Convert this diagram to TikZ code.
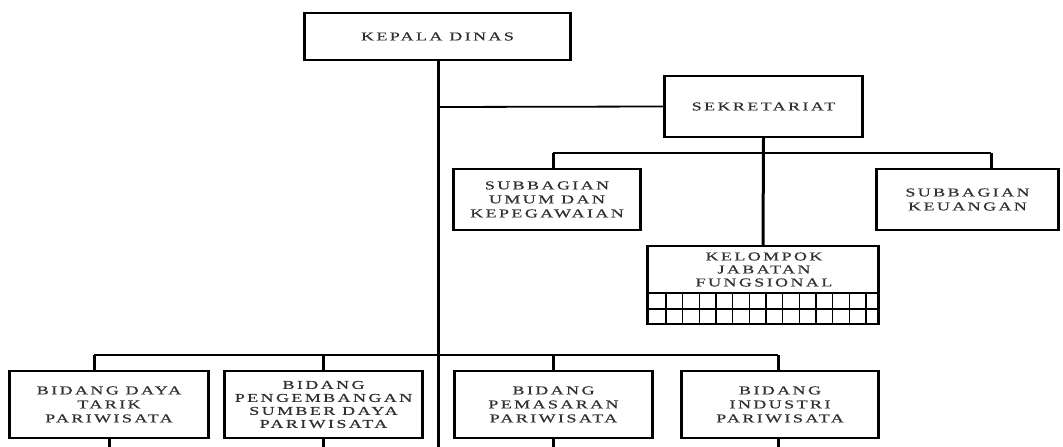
\documentclass[tikz,border=0pt]{standalone}
\usepackage{fontspec}
\newfontfamily\orgfont[FakeStretch=1.5,LetterSpace=20,FakeBold=0.6]{Liberation Serif}
\usetikzlibrary{positioning}
\definecolor{orgtext}{HTML}{303030}

\tikzset{
  unit/.style={draw,line width=1.6pt,align=center,text=orgtext,inner sep=0pt,
    font=\orgfont\fontsize{12}{14}\selectfont},
  trunk/.style={line width=3pt},
  branch/.style={line width=1.8pt},
  side/.style={line width=3pt},
  cell/.style={line width=1.4pt},
}

\begin{document}
\begin{tikzpicture}[x=1pt,y=-1pt]
  \useasboundingbox (0,0) rectangle (1063,447);

  % pimpinan dan sekretariat
  \node[unit,minimum width=265pt,minimum height=47pt] (kadis) at (437.5,36.5) {KEPALA DINAS};
  \node[unit,minimum width=197pt,minimum height=61pt] (sekre) at (763.5,106.5) {SEKRETARIAT};
  \node[unit,minimum width=186pt,minimum height=61pt] (umum) at (547,199.5) {SUBBAGIAN\\UMUM DAN\\KEPEGAWAIAN};
  \node[unit,minimum width=181pt,minimum height=61pt] (keu) at (967.5,199.5) {SUBBAGIAN\\KEUANGAN};
  \node[unit,minimum width=230pt,minimum height=78pt] (kjf) at (763,285) {};
  \node[text=orgtext,align=center,inner sep=0pt,font=\orgfont\fontsize{12}{13}\selectfont]
    (kjftext) at (764,269.5) {KELOMPOK\\JABATAN\\FUNGSIONAL};

  % bidang
  \node[unit,minimum width=198pt,minimum height=67pt] (daya) at (109,404.5) {BIDANG DAYA\\TARIK\\PARIWISATA};
  \node[unit,minimum width=197pt,minimum height=67pt,font=\orgfont\fontsize{12}{13}\selectfont]
    (sdm) at (323.5,404.5) {BIDANG\\PENGEMBANGAN\\SUMBER DAYA\\PARIWISATA};
  \node[unit,minimum width=197pt,minimum height=67pt] (pasar) at (553.5,404.5) {BIDANG\\PEMASARAN\\PARIWISATA};
  \node[unit,minimum width=196pt,minimum height=67pt] (industri) at (780,404.5) {BIDANG\\INDUSTRI\\PARIWISATA};

  % sisi kotak lebih tebal
  \foreach \n in {kadis,sekre,umum,keu,kjf,daya,sdm,pasar,industri}
    \draw[side] (\n.north west) -- (\n.south west) (\n.north east) -- (\n.south east);

  % kotak jabatan fungsional
  \draw[cell] (kjf.west |- 0,293) -- (kjf.east |- 0,293);
  \draw[cell] (kjf.west |- 0,309) -- (kjf.east |- 0,309);
  \foreach \i in {0,...,12}
    \draw[cell] (666+16.67*\i,293) -- (666+16.67*\i,324);

  % garis komando
  \coordinate (foot) at (438,447);
  \coordinate (jsek) at (438,107);
  \coordinate (jumum) at (553,153);
  \coordinate (jkeu) at (991,153);
  \coordinate (jdaya) at (94,355);
  \coordinate (jsdm) at (323,355);
  \coordinate (jpasar) at (553,355);
  \coordinate (jind) at (778,355);

  \draw[trunk] (kadis.south -| foot) -- (foot);
  \draw[branch] (jsek) -- (sekre.west);
  \draw[trunk] (sekre.south) -- (kjf.north);
  \draw[branch] (jumum) -- (jkeu);
  \draw[trunk] (jumum) -- (jumum |- umum.north);
  \draw[trunk] (jkeu) -- (jkeu |- keu.north);

  \draw[branch] (jdaya) -- (jind);
  \foreach \j/\b in {jdaya/daya,jsdm/sdm,jpasar/pasar,jind/industri}
    \draw[trunk] (\j) -- (\j |- \b.north);

  % garis ke bawah
  \draw[trunk] (daya.south) -- (daya.south |- foot);
  \draw[trunk] (sdm.south) -- (sdm.south |- foot);
  \draw[trunk] (jpasar |- pasar.south) -- (jpasar |- foot);
  \draw[trunk] (jind |- industri.south) -- (jind |- foot);
\end{tikzpicture}
\end{document}
